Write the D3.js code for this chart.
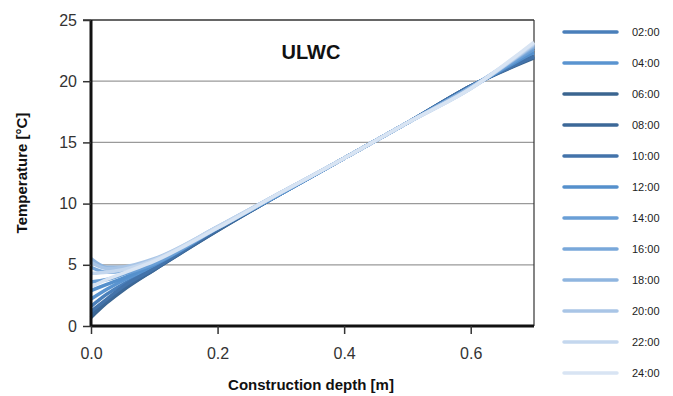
<!DOCTYPE html>
<html>
<head>
<meta charset="utf-8">
<script src="https://cdn.jsdelivr.net/npm/d3@7"></script>
<style>
  body { margin: 0; background: #fff; }
  text { font-family: "Liberation Sans", Arial, sans-serif; }
</style>
</head>
<body>
<div id="chart"></div>
<script>
// ----------------------
// Data
// ----------------------
const depths = [0, 0.025, 0.05, 0.1, 0.2, 0.3, 0.4, 0.5, 0.6, 0.7];
const hours = ["02:00", "04:00", "06:00", "08:00", "10:00", "12:00",
               "14:00", "16:00", "18:00", "20:00", "22:00", "24:00"];
const colors = ["#4a7fba", "#5a94d0", "#3b6590", "#3c6898", "#4373aa", "#5590cc",
                "#6a9fd6", "#79a8da", "#8fb5df", "#a9c5e6", "#c4d7ee", "#d8e4f3"];
const temps = [
  [1.6, 2.6, 3.4, 4.8, 7.9, 10.8, 13.7, 16.6, 19.6, 22.1],
  [2.2, 3.0, 3.7, 4.9, 7.9, 10.8, 13.7, 16.6, 19.5, 22.3],
  [0.7, 1.9, 2.9, 4.6, 7.8, 10.8, 13.7, 16.6, 19.6, 21.9],
  [0.9, 2.0, 3.0, 4.6, 7.8, 10.8, 13.7, 16.6, 19.6, 22.0],
  [1.2, 2.2, 3.2, 4.7, 7.9, 10.8, 13.7, 16.6, 19.6, 22.0],
  [2.9, 3.4, 3.9, 5.0, 8.0, 10.8, 13.7, 16.6, 19.5, 22.4],
  [3.6, 3.8, 4.2, 5.1, 8.0, 10.8, 13.7, 16.6, 19.5, 22.6],
  [4.8, 4.4, 4.5, 5.3, 8.0, 10.9, 13.7, 16.6, 19.5, 22.8],
  [5.5, 4.8, 4.8, 5.4, 8.1, 10.9, 13.7, 16.6, 19.5, 22.9],
  [5.2, 4.7, 4.8, 5.5, 8.1, 10.9, 13.7, 16.6, 19.4, 23.0],
  [4.3, 4.4, 4.6, 5.4, 8.1, 10.9, 13.7, 16.6, 19.4, 23.1],
  [3.2, 3.8, 4.3, 5.3, 8.0, 10.9, 13.7, 16.6, 19.4, 23.2]
];
const xTicks = [0, 0.2, 0.4, 0.6];
const yTicks = [0, 5, 10, 15, 20, 25];

// ----------------------
// Setup
// ----------------------
const width = 673, height = 396;
const plot = { left: 91, right: 534, top: 20, bottom: 326 };

const svg = d3.select("#chart").append("svg")
    .attr("width", width)
    .attr("height", height);

const x = d3.scaleLinear().domain([0, 0.7]).range([plot.left, plot.right]);
const y = d3.scaleLinear().domain([0, 25]).range([plot.bottom, plot.top]);

// gridlines
svg.append("g")
  .selectAll("line")
  .data(yTicks.filter(d => d > 0 && d < 25))
  .enter().append("line")
    .attr("x1", plot.left).attr("x2", plot.right)
    .attr("y1", d => y(d)).attr("y2", d => y(d))
    .attr("stroke", "#9a9a9a")
    .attr("stroke-width", 1.2);

// frame top / right
svg.append("line")
    .attr("x1", plot.left - 8).attr("x2", plot.right)
    .attr("y1", y(25)).attr("y2", y(25))
    .attr("stroke", "#333").attr("stroke-width", 1.5);
svg.append("line")
    .attr("x1", plot.right).attr("x2", plot.right)
    .attr("y1", plot.top).attr("y2", plot.bottom)
    .attr("stroke", "#333").attr("stroke-width", 1.2);

// lines
const line = d3.line()
    .x((d, i) => x(depths[i]))
    .y(d => y(d))
    .curve(d3.curveMonotoneX);

svg.append("g")
  .selectAll("path")
  .data(temps)
  .enter().append("path")
    .attr("d", line)
    .attr("fill", "none")
    .attr("stroke", (d, i) => colors[i])
    .attr("stroke-width", 3.5)
    .attr("stroke-linejoin", "round");

// axes
const xAxis = svg.append("g")
    .attr("transform", `translate(0,${plot.bottom})`)
    .call(d3.axisBottom(x).tickValues(xTicks).tickSize(8).tickPadding(14)
      .tickFormat(d3.format(".1f")));
const yAxis = svg.append("g")
    .attr("transform", `translate(${plot.left},0)`)
    .call(d3.axisLeft(y).tickValues(yTicks).tickSize(8).tickPadding(6));

[xAxis, yAxis].forEach(a => {
  a.select(".domain").attr("stroke", "#111").attr("stroke-width", 3);
  a.selectAll(".tick line").attr("stroke", "#333").attr("stroke-width", 1.5);
  a.selectAll(".tick text")
    .attr("font-size", 16)
    .attr("fill", "#333")
    .style("font-family", "'Liberation Sans', Arial, sans-serif");
});
yAxis.select(".domain").attr("d", `M0,${plot.top}V${plot.bottom}`);
xAxis.select(".domain").attr("d", `M${plot.left},0H${plot.right}`);

// title
svg.append("text")
    .attr("x", 311).attr("y", 59)
    .attr("text-anchor", "middle")
    .attr("font-size", 20)
    .attr("font-weight", "bold")
    .attr("fill", "#111")
    .text("ULWC");

// axis labels
svg.append("text")
    .attr("x", 311).attr("y", 390)
    .attr("text-anchor", "middle")
    .attr("font-size", 15)
    .attr("font-weight", "bold")
    .attr("fill", "#111")
    .text("Construction depth [m]");

svg.append("text")
    .attr("transform", "translate(27,173) rotate(-90)")
    .attr("text-anchor", "middle")
    .attr("font-size", 15)
    .attr("font-weight", "bold")
    .attr("fill", "#111")
    .text("Temperature [°C]");

// ----------------------
// Legend
// ----------------------
const legend = svg.append("g")
  .selectAll("g")
  .data(hours)
  .enter().append("g")
    .attr("transform", (d, i) => `translate(564,${32 + i * 31})`);

legend.append("line")
    .attr("x1", 0).attr("x2", 53)
    .attr("stroke", (d, i) => colors[i])
    .attr("stroke-width", 3.5)
    .attr("stroke-linecap", "round");

legend.append("text")
    .attr("x", 68).attr("y", 4)
    .attr("font-size", 11)
    .attr("fill", "#222")
    .text(d => d);
</script>
</body>
</html>
